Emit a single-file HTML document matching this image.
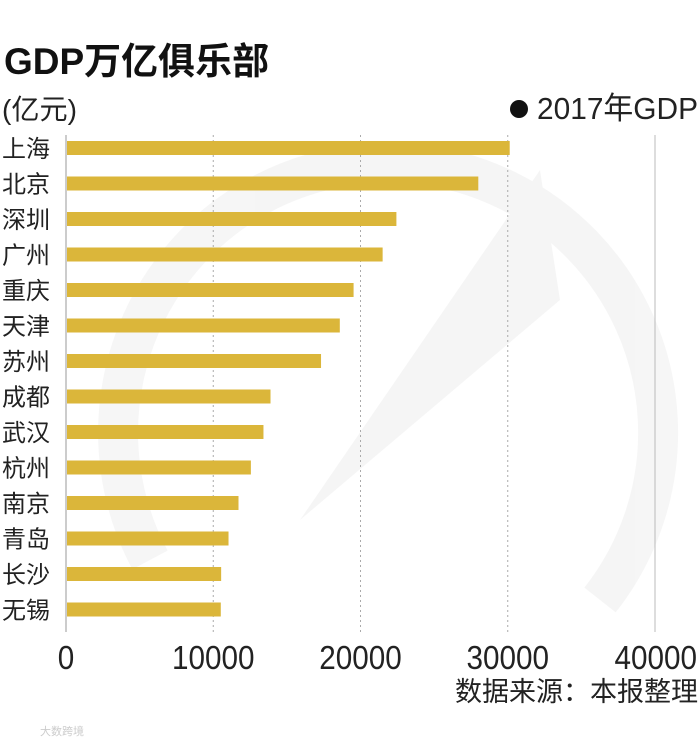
<!DOCTYPE html>
<html><head><meta charset="utf-8"><style>
html,body{margin:0;padding:0;background:#fff;}
body{width:700px;height:745px;position:relative;overflow:hidden;font-family:"Liberation Sans","Noto Sans CJK SC",sans-serif;}
</style></head><body>
<svg width="700" height="745" viewBox="0 0 700 745" xmlns="http://www.w3.org/2000/svg">
<g opacity="0.035">
<path d="M150,560 A270,270 0 1 1 600,600" fill="none" stroke="#000" stroke-width="40"/>
<path d="M300,520 L540,170 L560,300 Z" fill="#000"/>
</g>
<text x="4" y="74" font-size="37" font-weight="bold" fill="#111">GDP万亿俱乐部</text>
<text x="2" y="119" font-size="28" fill="#222" textLength="75" lengthAdjust="spacingAndGlyphs">(亿元)</text>
<circle cx="519" cy="109" r="9" fill="#111"/>
<text x="537" y="119" font-size="31" fill="#222" textLength="161" lengthAdjust="spacingAndGlyphs">2017年GDP</text>
<g id="grid"></g><g id="bars"></g><g id="labels"></g><g id="ticks"></g>
<line x1="66" y1="135" x2="66" y2="632" stroke="#999" stroke-width="1"/>
<text x="698" y="701" font-size="27" fill="#222" text-anchor="end">数据来源：本报整理</text>
<text x="40" y="735" font-size="11" fill="#ccc">大数跨境</text>
</svg>
<script>
const cities=["上海","北京","深圳","广州","重庆","天津","苏州","成都","武汉","杭州","南京","青岛","长沙","无锡"];
const gdp=[30133,28000,22438,21503,19530,18595,17320,13889,13410,12556,11715,11037,10536,10512];
const ticks=[0,10000,20000,30000,40000];
const NS="http://www.w3.org/2000/svg";
const x=v=>66+v*(589/40000);
const y=i=>148+i*35.5;
function mk(t,a,p){const e=document.createElementNS(NS,t);for(const k in a)e.setAttribute(k,a[k]);p.appendChild(e);return e;}
const G=document.getElementById('grid'),B=document.getElementById('bars'),L=document.getElementById('labels'),T=document.getElementById('ticks');
ticks.forEach(t=>{if(t===0)return;
const l=mk('line',{x1:x(t),x2:x(t),y1:135,y2:632,stroke:t===40000?'#bbb':'#aaa','stroke-width':1,'stroke-dasharray':t===40000?'':'2,3'},G);

});
ticks.forEach(t=>{const w=String(t).length*16.5;
const e=mk('text',{x:x(t),y:669,'font-size':33,fill:'#222','text-anchor':'middle',textLength:w,lengthAdjust:'spacingAndGlyphs'},T);
if(t===40000){e.setAttribute('text-anchor','end');e.setAttribute('x',697);}
e.textContent=t;

});
cities.forEach((c,i)=>{
const r=mk('rect',{x:x(0)+1,y:y(i)-7,width:x(gdp[i])-x(0)-1,height:14,fill:'#dbb63a'},B);


const t=mk('text',{x:2,y:y(i)+9,'font-size':24,fill:'#222'},L);
t.textContent=c;

});
</script>
</body></html>
